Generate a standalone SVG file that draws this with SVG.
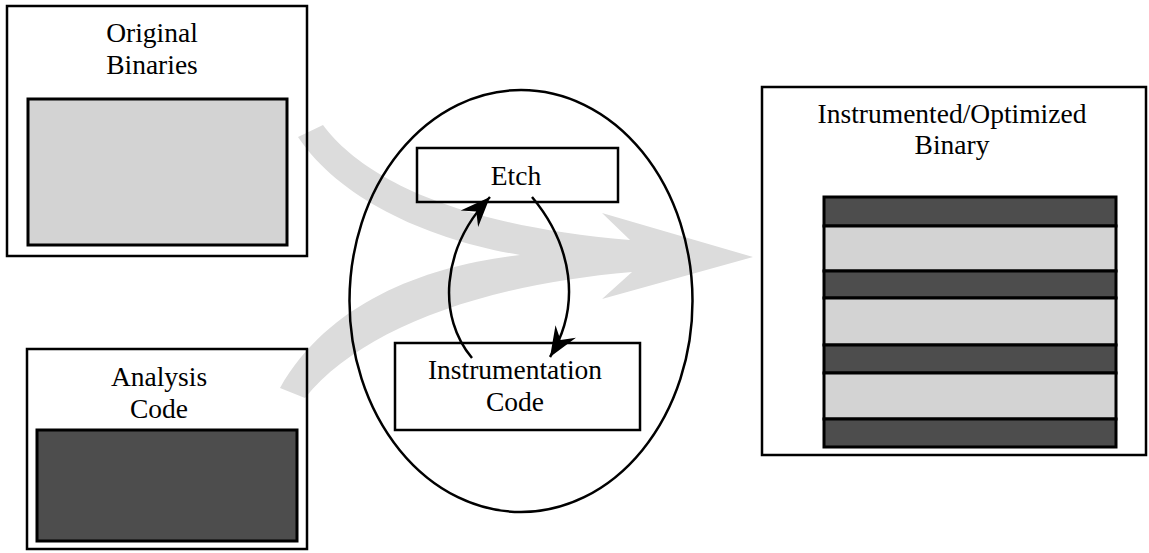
<svg xmlns="http://www.w3.org/2000/svg" width="1149" height="553" viewBox="0 0 1149 553">
<style>
.box{fill:none;stroke:#000;stroke-width:2.5}
.lt{fill:#d3d3d3;stroke:#000;stroke-width:3}
.dk{fill:#4d4d4d;stroke:#000;stroke-width:3}
.t{font-family:"Liberation Serif","Times New Roman",serif;font-size:27.5px;fill:#000;text-anchor:middle}
.arc{fill:none;stroke:#000;stroke-width:2.5}
</style>
<defs>
<marker id="ah" markerUnits="userSpaceOnUse" markerWidth="36" markerHeight="30" viewBox="-32 -15 36 30" refX="0" refY="0" orient="auto">
<path d="M0,0 L-30,-12 L-20,0 L-30,12 Z" fill="#000"/>
</marker>
</defs>
<rect width="1149" height="553" fill="#fff"/>
<g id="flow">
<path d="M323,125 C360,175 450,225 630,240 L602,213 L753,257 L602,299 L632,272 C480,285 360,330 305,398 L280,388 C330,300 430,265 520,255 C430,240 340,200 298,137 Z" fill="#dcdcdc"/>
</g>
<g id="original-binaries">
<rect class="box" x="7" y="6" width="300" height="250"/>
<rect class="lt" x="28" y="99" width="259" height="146"/>
<text class="t" x="152" y="42">Original</text>
<text class="t" x="152" y="74">Binaries</text>
</g>
<g id="analysis-code">
<rect class="box" x="27" y="349" width="280" height="200"/>
<rect class="dk" x="37" y="430" width="260" height="111"/>
<text class="t" x="159" y="386">Analysis</text>
<text class="t" x="159" y="418">Code</text>
</g>
<g id="etch-system">
<ellipse class="arc" cx="521" cy="301" rx="171.5" ry="211"/>
</g>
<g id="etch">
<rect class="box" x="417" y="148" width="201" height="54"/>
<text class="t" x="516" y="185">Etch</text>
</g>
<g id="instrumentation-code">
<rect class="box" x="395" y="343" width="245" height="87"/>
<text class="t" x="515" y="379">Instrumentation</text>
<text class="t" x="515" y="411">Code</text>
</g>
<g id="instrumented-binary">
<rect class="box" x="762" y="87" width="384" height="368"/>
<text class="t" x="952" y="123">Instrumented/Optimized</text>
<text class="t" x="952" y="154">Binary</text>
<rect class="dk" x="824" y="197" width="292" height="29"/>
<rect class="lt" x="824" y="226" width="292" height="45"/>
<rect class="dk" x="824" y="271" width="292" height="27"/>
<rect class="lt" x="824" y="298" width="292" height="47"/>
<rect class="dk" x="824" y="345" width="292" height="28"/>
<rect class="lt" x="824" y="373" width="292" height="46"/>
<rect class="dk" x="824" y="419" width="292" height="28"/>
</g>
<g id="connectors">
<path class="arc" d="M472,358 C438,318 440,250 490,197" marker-end="url(#ah)"/>
<path class="arc" d="M532,197 C572,245 582,305 550,357" marker-end="url(#ah)"/>
</g>
</svg>
